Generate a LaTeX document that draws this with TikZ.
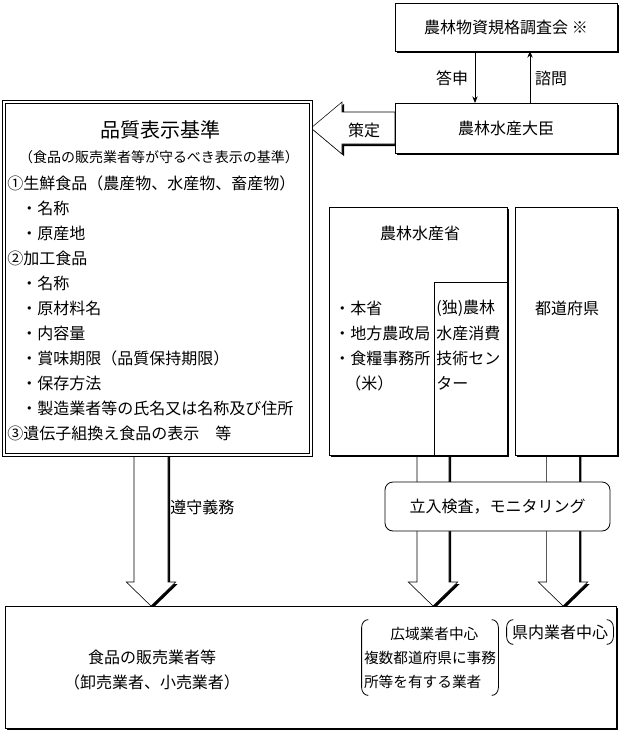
\documentclass[tikz,border=0pt]{standalone}
\usepackage{fontspec}
\setmainfont{Noto Sans CJK JP}
\usetikzlibrary{arrows.meta, calc, backgrounds}

\tikzset{
  shadowed/.style={preaction={fill=black, transform canvas={shift={(1.5pt,-1.5pt)}}}},
  box/.style={draw, fill=white, shadowed, inner sep=0pt, outer sep=0pt},
  txt/.style={font=\fontsize{12}{18.75}\selectfont, inner sep=0pt},
  hollow/.style n args={3}{draw, fill=white, shadowed, line join=miter,
    to path={($(\tikztotarget)!#3!(\tikztostart)$) coordinate (hb)
      ($(\tikztostart)!#1!90:(hb)$) -- ($(hb)!#1!-90:(\tikztostart)$)
      -- ($(hb)!#2!-90:(\tikztostart)$) -- (\tikztotarget)
      -- ($(hb)!#2!90:(\tikztostart)$) -- ($(hb)!#1!90:(\tikztostart)$)
      -- ($(\tikztostart)!#1!-90:(hb)$) -- cycle}},
}

\begin{document}
\begin{tikzpicture}[x=0.75pt, y=-0.75pt, line width=0.6pt, >={Stealth[length=5pt, width=4pt]}]
    \useasboundingbox (0,0) rectangle (625,736);

    % Council and minister
    \node[box, txt, minimum width=166.5pt, minimum height=36pt] (council) at (506,27) {農林物資規格調査会 ※};
    \node[box, txt, minimum width=166.5pt, minimum height=37.5pt] (minister) at (506,128) {農林水産大臣};
    \draw[->] ([xshift=-23.25pt]council.south) -- ([xshift=-23.25pt]minister.north);
    \draw[->] ([xshift=18pt]minister.north) -- ([xshift=18pt]council.south);
    \node[txt] (reply) at (452,78) {答申};
    \node[txt] (inquiry) at (551,78) {諮問};

    % Quality labelling standard
    \node[draw, double, double distance=2pt, fill=white, minimum width=230.25pt, minimum height=264.75pt, inner sep=0pt, outer sep=0pt] (std) at (157.5,278.5) {};
    \node[txt, font=\fontsize{15}{18}\selectfont] (stdttl) at (160,130) {品質表示基準};
    \node[txt, font=\fontsize{10.5}{14}\selectfont] (stdsub) at (159,157) {（食品の販売業者等が守るべき表示の基準）};
    \foreach \dx/\txtline [count=\i from 0] in {7/①生鮮食品（農産物、水産物、畜産物）, 21/・名称, 21/・原産地, 7/②加工食品, 21/・名称, 21/・原材料名, 21/・内容量, 21/・賞味期限（品質保持期限）, 21/・保存方法, 21/・製造業者等の氏名又は名称及び住所, 7/③遺伝子組換え食品の表示　等}
        \node[txt, anchor=west] (item\i) at (\dx,183+25*\i) {\txtline};

    % Ministry and its centre
    \node[box, minimum width=133.5pt, minimum height=186pt] (maff) at (418,331) {};
    \node[draw, fill=white, minimum width=54.75pt, minimum height=129.75pt, inner sep=0pt, outer sep=0pt] (iaa) at (470.5,368.5) {};
    \node[txt] (maffttl) at (420,233) {農林水産省};
    \foreach \txtline [count=\i from 0] in {・本省, ・地方農政局, ・食糧事務所}
        \node[txt, anchor=west] (office\i) at (334,308+25*\i) {\txtline};
    \node[txt, anchor=west] (rice) at (345,383) {（米）};
    \foreach \txtline [count=\i from 0] in {(独)農林, 水産消費, 技術セン, ター}
        \node[txt, anchor=west] (iaaline\i) at (436,308+25*\i) {\txtline};

    % Prefectures
    \node[box, minimum width=76.5pt, minimum height=186pt] (pref) at (566,331) {};
    \node[txt] (prefttl) at (567,308) {都道府県};

    % Food sellers
    \node[box, minimum width=458.25pt, minimum height=91.5pt] (shop) at (310.5,667) {};
    \node[txt, align=center] (shopttl) at (152,670) {食品の販売業者等\\（卸売業者、小売業者）};
    \node[font=\fontsize{11}{18}\selectfont, inner sep=0pt, align=left, minimum width=102pt, minimum height=56.25pt] (wide) at (430,657.5) {\hspace*{1.8em}広域業者中心\\複数都道府県に事務\\所等を有する業者};
    \node[txt, minimum width=79.5pt, minimum height=18pt] (local) at (560,632) {県内業者中心};
    \foreach \n in {wide, local} {
        \draw ([xshift=5pt]\n.north west) to[out=180, in=90] ([yshift=-6pt]\n.north west) -- ([yshift=6pt]\n.south west) to[out=-90, in=180] ([xshift=5pt]\n.south west);
        \draw ([xshift=-5pt]\n.north east) to[out=0, in=90] ([yshift=-6pt]\n.north east) -- ([yshift=6pt]\n.south east) to[out=-90, in=0] ([xshift=-5pt]\n.south east);
    }

    % Inspection
    \node[draw, fill=white, rounded corners=6pt, txt, minimum width=168.75pt, minimum height=36.75pt] (insp) at (497.5,506.5) {立入検査，モニタリング};

    % Hollow arrows
    \coordinate (t0) at (minister.west -| std.east);
    \coordinate (t1) at (151,606);
    \coordinate (t2) at (433,606);
    \coordinate (t3) at (563,606);
    \begin{pgfonlayer}{background}
        \draw[hollow={12pt}{19.5pt}{23.25pt}] (minister.west) to (t0);
        \draw[hollow={12.75pt}{18.5pt}{18pt}] (std.south -| t1) to (t1);
        \draw[hollow={12pt}{18.5pt}{18pt}] (maff.south -| t2) to (t2);
        \draw[hollow={12.25pt}{18.5pt}{18pt}] (pref.south -| t3) to (t3);
    \end{pgfonlayer}
    \node[txt] (setlbl) at (364,130) {策定};
    \node[txt, anchor=west] (dutylbl) at (170,507) {遵守義務};

\end{tikzpicture}
\end{document}
